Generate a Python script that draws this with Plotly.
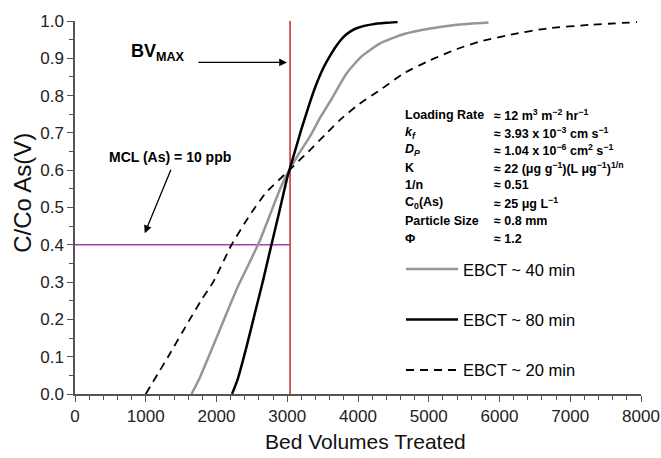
import plotly.graph_objects as go

# ---- data ----
bv_80 = [2220, 2300, 2425, 2543, 2660, 2770, 2882, 3000, 3100, 3200, 3300, 3400, 3500, 3600, 3700, 3800, 3900, 4000, 4200, 4400, 4560]
c_80 = [0, 0.04, 0.127, 0.217, 0.306, 0.395, 0.484, 0.58, 0.645, 0.71, 0.77, 0.825, 0.87, 0.905, 0.935, 0.958, 0.973, 0.982, 0.991, 0.995, 0.997]

bv_40 = [1647, 1767, 1944, 2118, 2307, 2460, 2610, 2755, 2900, 3000, 3150, 3320, 3463, 3608, 3840, 4050, 4312, 4650, 5020, 5400, 5844]
c_40 = [0, 0.045, 0.125, 0.205, 0.29, 0.35, 0.41, 0.48, 0.55, 0.59, 0.64, 0.69, 0.74, 0.785, 0.86, 0.905, 0.94, 0.965, 0.98, 0.99, 0.996]

bv_20 = [1000, 1316, 1623, 1780, 1953, 2213, 2472, 2700, 3000, 3300, 3534, 3746, 4000, 4312, 4650, 5020, 5400, 5727, 6200, 6670, 7300, 7944]
c_20 = [0, 0.1, 0.2, 0.25, 0.3, 0.4, 0.48, 0.54, 0.595, 0.65, 0.695, 0.735, 0.775, 0.815, 0.86, 0.895, 0.925, 0.945, 0.965, 0.98, 0.99, 0.997]

bv_max = 3040
mcl_level = 0.4

x_ticks = [0, 1000, 2000, 3000, 4000, 5000, 6000, 7000, 8000]
y_ticks = [0.0, 0.1, 0.2, 0.3, 0.4, 0.5, 0.6, 0.7, 0.8, 0.9, 1.0]
y_ticklabels = [f"{v:.1f}" for v in y_ticks]

param_names = ["Loading Rate", "<i>k<sub>f</sub></i>", "<i>D<sub>P</sub></i>", "K", "1/n",
               "C<sub>0</sub>(As)", "Particle Size", "Φ"]
param_values = ["≈ 12 m<sup>3</sup> m<sup>−2</sup> hr<sup>−1</sup>",
                "≈ 3.93 x 10<sup>−3</sup> cm s<sup>−1</sup>",
                "≈ 1.04 x 10<sup>−6</sup> cm<sup>2</sup> s<sup>−1</sup>",
                "≈ 22 (μg g<sup>−1</sup>)(L μg<sup>−1</sup>)<sup>1/n</sup>",
                "≈ 0.51",
                "≈ 25 μg L<sup>−1</sup>",
                "≈ 0.8 mm",
                "≈ 1.2"]

FONT = "Arial, Liberation Sans, sans-serif"

fig = go.Figure()

# reference lines
fig.add_trace(go.Scatter(x=[bv_max, bv_max], y=[0, 1.0], mode="lines",
                         line=dict(color="rgb(200,40,50)", width=1.5),
                         showlegend=False, hoverinfo="skip", cliponaxis=False))
fig.add_trace(go.Scatter(x=[0, bv_max], y=[mcl_level, mcl_level], mode="lines",
                         line=dict(color="rgb(170,60,180)", width=1.5),
                         showlegend=False, hoverinfo="skip"))

fig.add_trace(go.Scatter(x=bv_40, y=c_40, mode="lines", name="EBCT ~ 40 min",
                         line=dict(color="rgb(150,150,150)", width=2.5, shape="spline", smoothing=0.5),
                         legendgroup="a"))
fig.add_trace(go.Scatter(x=bv_80, y=c_80, mode="lines", name="EBCT ~ 80 min",
                         line=dict(color="black", width=2.5, shape="spline", smoothing=0.5),
                         legendgroup="b"))
fig.add_trace(go.Scatter(x=bv_20, y=c_20, mode="lines", name="EBCT ~ 20 min",
                         line=dict(color="black", width=1.8, dash="8px,6px", shape="spline", smoothing=0.5),
                         legendgroup="c"))

annotations = []
# axis titles
annotations.append(dict(x=-0.0934, y=0.540, xref="paper", yref="paper", xanchor="center", yanchor="middle",
                        text="C/Co As(V)", textangle=-90, showarrow=False,
                        font=dict(family=FONT, size=24, color="#111")))
annotations.append(dict(x=0.513, y=-0.127, xref="paper", yref="paper", xanchor="center", yanchor="middle",
                        text="Bed Volumes Treated", showarrow=False,
                        font=dict(family=FONT, size=21, color="#111")))
# BV max label + arrow
annotations.append(dict(x=760, y=0.915, xref="x", yref="y", xanchor="left", yanchor="middle",
                        text="<b>BV<sub>MAX</sub></b>", showarrow=False,
                        font=dict(family=FONT, size=18, color="black")))
annotations.append(dict(x=2996, y=0.889, ax=1722, ay=0.889, xref="x", yref="y", axref="x", ayref="y",
                        text="", showarrow=True, arrowhead=2, arrowsize=1.2, arrowwidth=1.3, arrowcolor="black"))
# MCL label + arrow
annotations.append(dict(x=1340, y=0.636, xref="x", yref="y", xanchor="center", yanchor="middle",
                        text="<b>MCL (As) = 10 ppb</b>", showarrow=False,
                        font=dict(family=FONT, size=14, color="black")))
annotations.append(dict(x=986, y=0.431, ax=1364, ay=0.605, xref="x", yref="y", axref="x", ayref="y",
                        text="", showarrow=True, arrowhead=2, arrowsize=1.2, arrowwidth=1.3, arrowcolor="black"))

row_y = [0.748, 0.701, 0.654, 0.607, 0.560, 0.512, 0.464, 0.416]
for name, val, yy in zip(param_names, param_values, row_y):
    annotations.append(dict(x=4637, y=yy, xref="x", yref="y", xanchor="left", yanchor="middle",
                            text=f"<b>{name}</b>", showarrow=False,
                            font=dict(family=FONT, size=12.5, color="black")))
    annotations.append(dict(x=5893, y=yy, xref="x", yref="y", xanchor="left", yanchor="middle",
                            text=f"<b>{val}</b>", showarrow=False,
                            font=dict(family=FONT, size=12.5, color="black")))

fig.update_layout(
    width=661, height=458,
    margin=dict(l=75, r=20, t=21, b=64),
    paper_bgcolor="white", plot_bgcolor="white",
    font=dict(family=FONT, color="black"),
    annotations=annotations,
    legend=dict(x=0.576, y=0.381, xanchor="left", yanchor="top",
                font=dict(family=FONT, size=16.5, color="black"),
                bgcolor="rgba(0,0,0,0)", traceorder="grouped", tracegroupgap=26,
                itemwidth=52),
)

fig.update_xaxes(range=[0, 8000], tickvals=x_ticks, ticktext=[str(v) for v in x_ticks],
                 automargin=False,
                 showgrid=False, zeroline=False, showline=True, linecolor="#555", linewidth=1.5,
                 ticks="outside", ticklen=6, tickcolor="#555", tickwidth=1.2,
                 minor=dict(dtick=200, ticks="outside", ticklen=4, tickcolor="#555", tickwidth=1),
                 tickfont=dict(family=FONT, size=17, color="#222"))
fig.update_yaxes(range=[0, 1.0], tickvals=y_ticks, ticktext=y_ticklabels,
                 automargin=False,
                 showgrid=False, zeroline=False, showline=True, linecolor="#555", linewidth=1.5,
                 ticks="outside", ticklen=6, tickcolor="#555", tickwidth=1.2,
                 minor=dict(dtick=0.05, ticks="outside", ticklen=4, tickcolor="#555", tickwidth=1),
                 tickfont=dict(family=FONT, size=17, color="#222"))

# remove the browser's default 8px body margin so the figure fills the window exactly
fig.write_html("out.html", config={"displayModeBar": False},
               post_script="document.body.style.margin='0px';")
